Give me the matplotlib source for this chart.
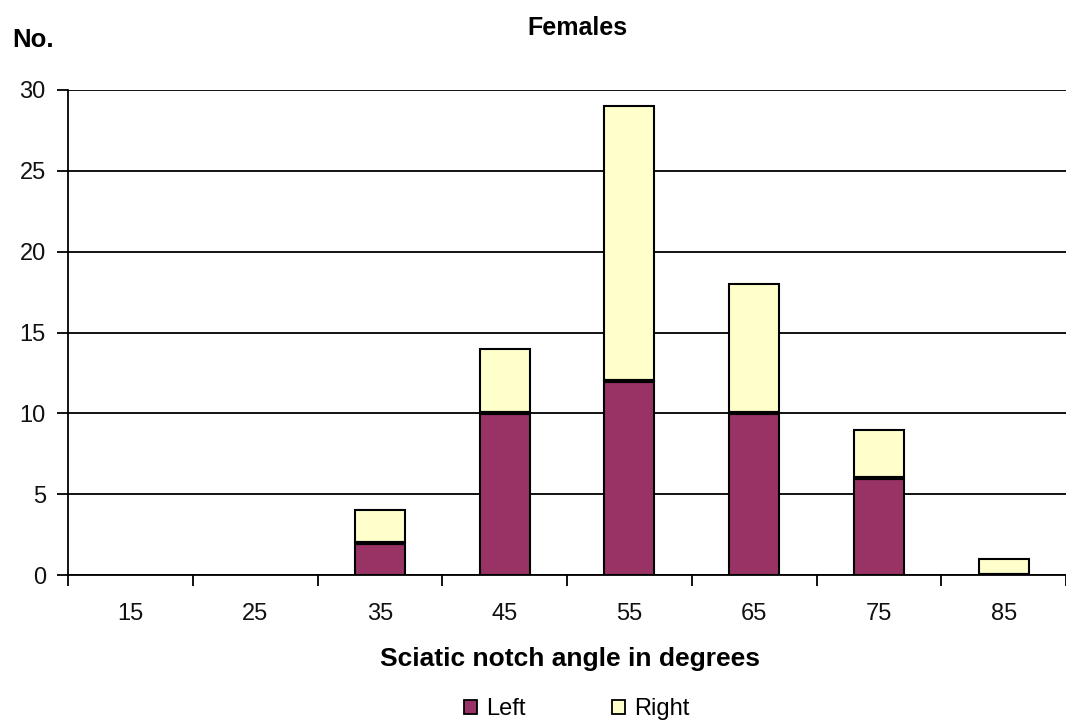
import matplotlib
matplotlib.use("Agg")
import matplotlib.pyplot as plt
import numpy as np
from matplotlib.patches import Patch

categories = ["15", "25", "35", "45", "55", "65", "75", "85"]
left_vals = [0, 0, 2, 10, 12, 10, 6, 0]
right_vals = [0, 0, 2, 4, 17, 8, 3, 1]
yticks = [0, 5, 10, 15, 20, 25, 30]

plt.rcParams['font.family'] = ['Liberation Sans', 'DejaVu Sans']

fig = plt.figure(figsize=(10.66, 7.27), dpi=100)
ax = fig.add_axes([68/1066, 1-575/727, 1-68/1066, (575-90)/727])

x = np.arange(len(categories))
w = 0.4
c_left = "#993366"
c_right = "#FFFFCC"
for i in range(len(categories)):
    if left_vals[i] + right_vals[i] == 0:
        continue
    ax.bar(x[i], left_vals[i], w, color=c_left, edgecolor="black", linewidth=1.5, zorder=3)
    ax.bar(x[i], right_vals[i], w, bottom=left_vals[i], color=c_right, edgecolor="black", linewidth=1.5, zorder=3)
    ax.plot([x[i]-w/2, x[i]+w/2], [left_vals[i], left_vals[i]], color="black", lw=3, zorder=4, solid_capstyle="butt")

ax.set_xlim(-0.5, len(categories)-0.5)
ax.set_ylim(0, 30)
ax.set_yticks(yticks)
ax.set_yticklabels([str(v) for v in yticks], fontsize=17, color="#111111")
ax.set_xticks(np.arange(-0.5, len(categories)), minor=False)
ax.set_xticklabels([])
ax.set_xticks(x, minor=True)
ax.set_xticklabels(categories, minor=True, fontsize=17, color="#111111")
ax.tick_params(axis="x", which="major", length=8, width=1.3, direction="out")
ax.tick_params(axis="x", which="minor", length=0, pad=20)
ax.tick_params(axis="y", length=8, width=1.3, direction="out", pad=8)

ax.grid(axis="y", color="black", linewidth=1.3, zorder=1)
ax.set_axisbelow(True)
for s in ["top", "right"]:
    ax.spines[s].set_visible(False)
for s in ["left", "bottom"]:
    ax.spines[s].set_linewidth(1.3)
    ax.spines[s].set_zorder(5)

fig.text(577/1066, 1-28/727, "Females", ha="center", va="center", fontsize=18, fontweight="bold")
fig.text(12/1066, 1-40/727, "No.", ha="left", va="center", fontsize=18.5, fontweight="bold")
fig.text(570/1066, 1-659/727, "Sciatic notch angle in degrees", ha="center", va="center", fontsize=19, fontweight="bold")

handles = [Patch(facecolor=c_left, edgecolor="black", linewidth=1.3, label="Left"),
           Patch(facecolor=c_right, edgecolor="black", linewidth=1.3, label="Right")]
fig.legend(handles=handles, loc="center", bbox_to_anchor=(577/1066, 1-709/727), ncol=2,
           frameon=False, fontsize=17, handlelength=0.55, handleheight=0.55, handletextpad=0.4,
           columnspacing=3.65)

fig.savefig("out.png", dpi=100)
